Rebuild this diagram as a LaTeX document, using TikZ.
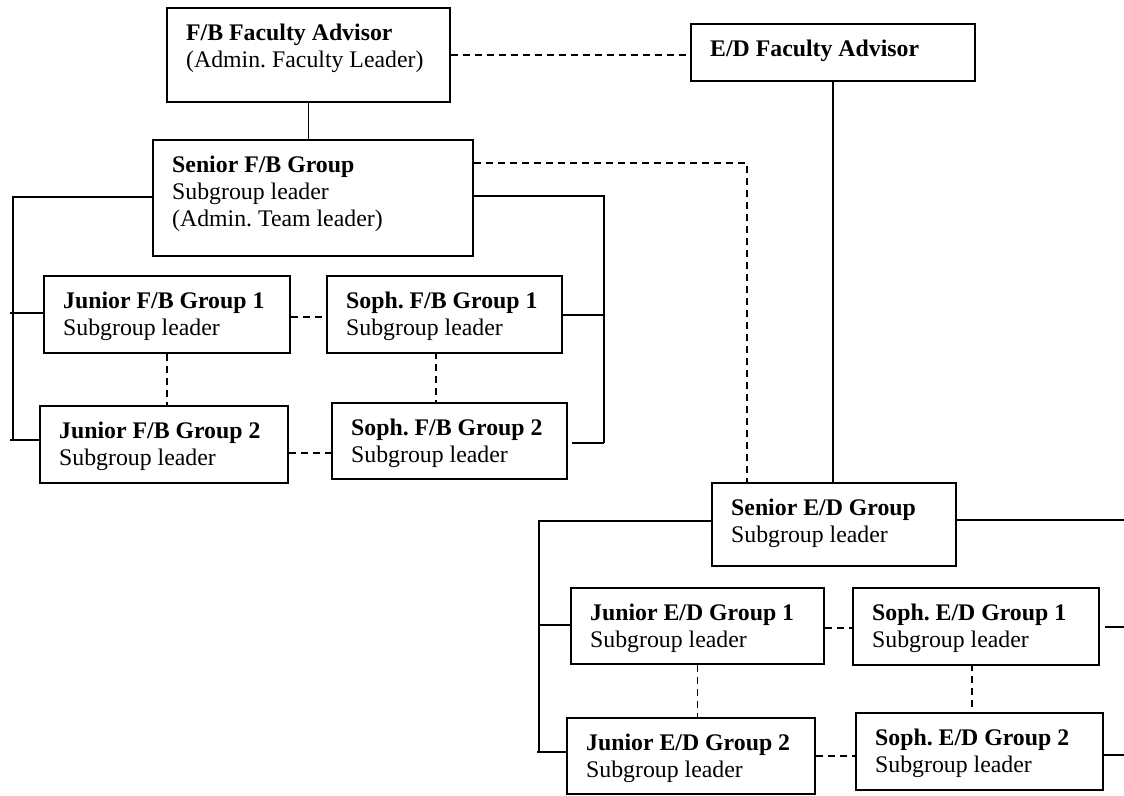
\documentclass[tikz,border=0pt]{standalone}
\usepackage{fontspec}
\setmainfont{Liberation Serif}
\usetikzlibrary{calc}
\frenchspacing
\tikzset{
  boxst/.style={draw=black, line width=1.8pt, rectangle, inner sep=0pt, anchor=north west},
  txt/.style={inner sep=0pt, anchor=north west, align=left, font=\fontsize{23.8}{27}\selectfont\frenchspacing},
  solidln/.style={draw=black, line width=1.8pt},
  dashln/.style={draw=black, line width=1.5pt, dash pattern=on 7pt off 5pt}
}
\newcommand{\orgbox}[6]{%
  \node[boxst, minimum width=#4pt, minimum height=#5pt] (#1) at (#2,#3) {};
  \node[txt] (#1-t) at ($(#1.north west)+(20,13)$) {\rule{0pt}{20pt}#6};
}
\begin{document}
\begin{tikzpicture}[x=1pt,y=-1pt]
\useasboundingbox (0,0) rectangle (1124,795);
\fill[white] (0,0) rectangle (1124,795);

\orgbox{fbadv}{166}{7}{283}{94}{\textbf{F/B Faculty Advisor}\\(Admin. Faculty Leader)}
\orgbox{edadv}{690}{23}{284}{57}{\textbf{E/D Faculty Advisor}}
\orgbox{senfb}{152}{139}{320}{116}{\textbf{Senior F/B Group}\\Subgroup leader\\(Admin. Team leader)}
\orgbox{jfb1}{43}{275}{246}{77}{\textbf{Junior F/B Group 1}\\Subgroup leader}
\orgbox{sfb1}{326}{275}{235}{77}{\textbf{Soph. F/B Group 1}\\Subgroup leader}
\orgbox{jfb2}{39}{405}{248}{77}{\textbf{Junior F/B Group 2}\\Subgroup leader}
\orgbox{sfb2}{331}{402}{235}{76}{\textbf{Soph. F/B Group 2}\\Subgroup leader}
\orgbox{sened}{711}{482}{244}{83}{\textbf{Senior E/D Group}\\Subgroup leader}
\orgbox{jed1}{570}{587}{253}{76}{\textbf{Junior E/D Group 1}\\Subgroup leader}
\orgbox{sed1}{852}{587}{246}{77}{\textbf{Soph. E/D Group 1}\\Subgroup leader}
\orgbox{jed2}{566}{717}{248}{76}{\textbf{Junior E/D Group 2}\\Subgroup leader}
\orgbox{sed2}{855}{712}{247}{77}{\textbf{Soph. E/D Group 2}\\Subgroup leader}

% free ends
\coordinate (fbL) at (13,197);
\coordinate (fbR) at (604,196);
\coordinate (edL) at (539,521);
\coordinate (edR) at (1124,520);
\coordinate (edR1) at (1124,627);
\coordinate (edR2) at (1124,755);
\coordinate (fbEdTurn) at (747,163);

% solid connectors
\draw[solidln] (fbadv.south) -- (fbadv.south |- senfb.north);
\draw[solidln] (edadv.south) -- (edadv.south |- sened.north);
\draw[solidln] (senfb.west |- fbL) -- (fbL) -- (13,441);
\draw[solidln] (10,313) -- (jfb1.west |- 0,313);
\draw[solidln] (10,440) -- (jfb2.west |- 0,440);
\draw[solidln] (senfb.east |- fbR) -- (fbR) -- (604,443);
\draw[solidln] (sfb1.east |- 0,315) -- (604,315);
\draw[solidln] ($(sfb2.east |- 0,443)+(4,0)$) -- (604,443);
\draw[solidln] (sened.west |- edL) -- (edL) -- (539,753);
\draw[solidln] (539,625) -- (jed1.west |- 0,625);
\draw[solidln] (537,752) -- (jed2.west |- 0,752);
\draw[solidln] (sened.east |- edR) -- (edR);
\draw[solidln] ($(sed1.east |- edR1)+(5,0)$) -- (edR1);
\draw[solidln] (sed2.east |- edR2) -- (edR2);

% dashed connectors
\draw[dashln] (fbadv.east) -- (fbadv.east -| edadv.west);
\draw[dashln] (senfb.east |- fbEdTurn) -- (fbEdTurn) -- (fbEdTurn |- sened.north);
\draw[dashln] (jfb1.east |- 0,317) -- (sfb1.west |- 0,317);
\draw[dashln] (jfb1.south) -- (jfb1.south |- jfb2.north);
\draw[dashln] (436,352) coordinate (s1b) -- (s1b |- sfb2.north);
\draw[dashln] (jfb2.east |- 0,453) -- (sfb2.west |- 0,453);
\draw[dashln] (jed1.east |- 0,628) -- (sed1.west |- 0,628);
\draw[dashln] (jed1.south) -- (jed1.south |- jed2.north);
\draw[dashln] (972,664) coordinate (d1b) -- (d1b |- sed2.north);
\draw[dashln] (jed2.east |- 0,756) -- (sed2.west |- 0,756);
\end{tikzpicture}
\end{document}
